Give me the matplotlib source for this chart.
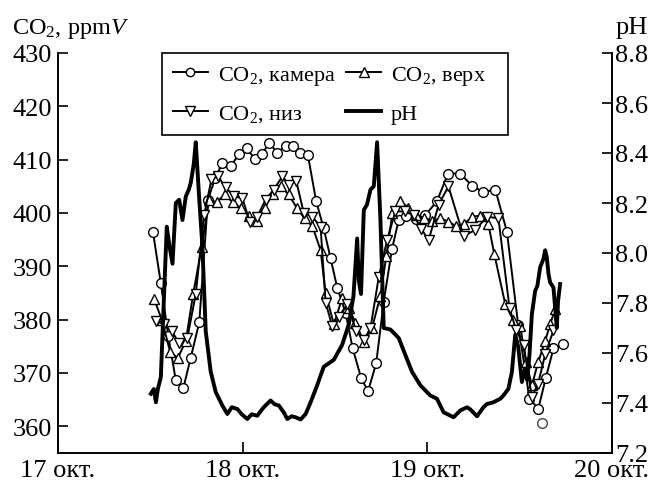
import matplotlib
matplotlib.use('Agg')
import matplotlib.pyplot as plt
from matplotlib.lines import Line2D

plt.rcParams['font.family'] = ['Liberation Serif', 'DejaVu Serif']
plt.rcParams['mathtext.fontset'] = 'custom'
plt.rcParams['mathtext.rm'] = 'Liberation Serif'
plt.rcParams['mathtext.it'] = 'Liberation Serif:italic'

# ---------------- data (time in days of October) ----------------
cam_t = [17.514, 17.557, 17.597, 17.638, 17.679, 17.719, 17.765, 17.812, 17.851, 17.890,
         17.935, 17.980, 18.022, 18.065, 18.106, 18.142, 18.188, 18.232, 18.274, 18.310,
         18.353, 18.398, 18.439, 18.476, 18.512, 18.557, 18.596, 18.642, 18.679, 18.723,
         18.764, 18.809, 18.845, 18.886, 18.938, 18.989, 19.052, 19.112, 19.178, 19.242,
         19.304, 19.368, 19.431, 19.492, 19.553, 19.601, 19.641, 19.683, 19.737]
cam_v = [396.5, 386.8, 377.0, 368.6, 367.2, 372.9, 379.5, 402.5, 406.5, 409.4,
         408.8, 411.0, 412.1, 410.2, 411.0, 413.2, 411.3, 412.6, 412.6, 411.2,
         410.9, 402.2, 397.1, 391.5, 386.0, 381.3, 374.6, 369.0, 366.6, 371.8,
         383.4, 393.3, 398.7, 399.5, 398.8, 399.6, 402.2, 407.4, 407.4, 405.1,
         403.9, 404.4, 396.5, 379.0, 365.2, 363.3, 369.0, 374.6, 375.4]
cam_extra_t = [19.620]
cam_extra_v = [360.7]

top_t = [17.521, 17.562, 17.607, 17.649, 17.692, 17.732, 17.778, 17.818, 17.859, 17.903,
         17.946, 17.989, 18.032, 18.076, 18.119, 18.162, 18.205, 18.249, 18.292, 18.335,
         18.378, 18.422, 18.449, 18.494, 18.539, 18.575, 18.611, 18.656, 18.701, 18.746,
         18.778, 18.811, 18.854, 18.897, 18.941, 18.984, 19.027, 19.070, 19.114, 19.157,
         19.200, 19.243, 19.286, 19.330, 19.362, 19.422, 19.465, 19.503, 19.535, 19.566,
         19.601, 19.638, 19.665, 19.692]
top_v = [383.8, 380.0, 374.0, 372.8, 376.0, 384.8, 393.6, 402.5, 402.0, 403.5,
         402.0, 401.0, 399.5, 398.5, 401.0, 403.5, 405.0, 403.5, 401.0, 399.0,
         397.5, 393.0, 385.0, 379.1, 384.1, 382.2, 379.4, 375.9, 378.5, 384.5,
         392.0, 400.0, 402.2, 401.0, 399.6, 399.0, 398.5, 399.0, 398.4, 397.5,
         398.0, 399.3, 399.5, 398.0, 392.4, 382.9, 380.0, 378.8, 372.0, 367.7,
         372.1, 376.0, 379.1, 382.0]

bot_t = [17.530, 17.573, 17.616, 17.657, 17.700, 17.746, 17.791, 17.831, 17.866, 17.908,
         17.953, 17.998, 18.038, 18.079, 18.124, 18.169, 18.215, 18.250, 18.290, 18.331,
         18.377, 18.422, 18.449, 18.485, 18.524, 18.566, 18.616, 18.656, 18.692, 18.737,
         18.782, 18.827, 18.881, 18.926, 18.968, 19.007, 19.061, 19.114, 19.196, 19.259,
         19.323, 19.385, 19.445, 19.481, 19.521, 19.566, 19.600, 19.638, 19.683]
bot_v = [379.7, 379.2, 377.8, 375.6, 376.5, 384.8, 399.6, 406.3, 406.9, 404.8,
         403.1, 402.8, 398.4, 399.3, 402.5, 404.4, 406.9, 405.3, 406.0, 400.0,
         399.3, 397.4, 383.2, 378.8, 380.5, 382.9, 377.8, 376.2, 378.4, 388.0,
         394.9, 400.3, 400.3, 399.6, 397.0, 394.9, 401.5, 405.0, 395.7, 396.8,
         399.3, 399.0, 382.2, 378.0, 375.3, 365.5, 368.0, 373.5, 378.0]

ph_t = [17.503, 17.519, 17.530, 17.541, 17.557, 17.573, 17.589, 17.603, 17.620, 17.638,
        17.656, 17.674, 17.692, 17.708, 17.719, 17.735, 17.746, 17.764, 17.782, 17.800,
        17.827, 17.854, 17.890, 17.917, 17.941, 17.971, 17.995, 18.025, 18.049, 18.079,
        18.114, 18.151, 18.173, 18.196, 18.222, 18.242, 18.265, 18.286, 18.314, 18.341,
        18.368, 18.404, 18.439, 18.494, 18.539, 18.575, 18.600, 18.620, 18.629, 18.641,
        18.656, 18.673, 18.692, 18.710, 18.728, 18.746, 18.764, 18.800, 18.845, 18.881,
        18.917, 18.962, 19.016, 19.052, 19.088, 19.142, 19.178, 19.215, 19.232, 19.269,
        19.304, 19.323, 19.358, 19.395, 19.412, 19.439, 19.458, 19.476, 19.492, 19.512,
        19.530, 19.541, 19.553, 19.566, 19.584, 19.596, 19.611, 19.629, 19.638, 19.647,
        19.656, 19.665, 19.683, 19.701, 19.708, 19.719]
ph_v = [7.437, 7.456, 7.403, 7.457, 7.504, 7.808, 8.105, 8.031, 7.957, 8.200,
        8.213, 8.132, 8.226, 8.253, 8.281, 8.355, 8.443, 8.226, 8.024, 7.687,
        7.525, 7.444, 7.390, 7.356, 7.383, 7.376, 7.355, 7.336, 7.355, 7.349,
        7.383, 7.410, 7.395, 7.390, 7.363, 7.336, 7.347, 7.343, 7.334, 7.356,
        7.403, 7.472, 7.545, 7.573, 7.633, 7.715, 7.828, 8.058, 7.889, 7.836,
        8.172, 8.193, 8.253, 8.267, 8.443, 8.132, 7.700, 7.694, 7.660, 7.592,
        7.525, 7.471, 7.430, 7.417, 7.363, 7.343, 7.370, 7.383, 7.375, 7.347,
        7.383, 7.396, 7.403, 7.417, 7.430, 7.457, 7.525, 7.673, 7.626, 7.484,
        7.538, 7.492, 7.592, 7.755, 7.849, 7.869, 7.943, 7.977, 8.011, 7.983,
        7.916, 7.882, 7.862, 7.700, 7.808, 7.876]

x_ticks = [17, 18, 19, 20]
x_labels = ['17 окт.', '18 окт.', '19 окт.', '20 окт.']
co2_ticks = [360, 370, 380, 390, 400, 410, 420, 430]
ph_ticks = [7.2, 7.4, 7.6, 7.8, 8.0, 8.2, 8.4, 8.6, 8.8]

lab_cam = 'CO$_2$, камера'
lab_top = 'CO$_2$, верх   '
lab_bot = 'CO$_2$, низ'
lab_ph = 'pH'

# ---------------- figure ----------------
fig = plt.figure(figsize=(6.5, 4.81), dpi=100)
ax = fig.add_axes([58/650, 1-454/481, 554/650, 400/481])
ax2 = ax.twinx()

mk = dict(color='black', lw=1.4, mfc='white', mec='black', mew=1.0)
ax.plot(cam_t, cam_v, marker='o', ms=7, **mk)
ax.plot(cam_extra_t, cam_extra_v, ls='none', marker='o', ms=7,
        mfc='white', mec='#444444', mew=1.0)
ax.plot(top_t, top_v, marker='^', ms=7.5, **mk)
ax.plot(bot_t, bot_v, marker='v', ms=7.5, **mk)
ax2.plot(ph_t, ph_v, color='black', lw=2.8, solid_joinstyle='round')

ax.set_xlim(17, 20)
ax.set_ylim(355, 430)
ax2.set_ylim(7.2, 8.8)
ax.set_xticks(x_ticks)
ax.set_xticklabels(x_labels)
ax.set_yticks(co2_ticks)
ax2.set_yticks(ph_ticks)
ax2.set_yticklabels([f'{v:.1f}' for v in ph_ticks])

for a in (ax, ax2):
    a.spines['top'].set_visible(False)
    for s in ('left', 'right', 'bottom'):
        a.spines[s].set_linewidth(1.2)
ax.tick_params(axis='y', direction='in', length=7, width=1.2, labelsize=19, pad=4.5)
ax.tick_params(axis='x', direction='in', length=8, width=1.2, labelsize=19, pad=4)
ax2.tick_params(axis='y', direction='in', length=7, width=1.2, labelsize=19, pad=2)

fig.text(12/650, 1-34/481, 'CO$_2$, ppm$V$', fontsize=17.5, ha='left', va='baseline')
fig.text(648/650, 1-34/481, 'pH', fontsize=19, ha='right', va='baseline')

handles = [
    Line2D([], [], marker='o', ms=6, **mk),
    Line2D([], [], marker='v', ms=6.5, **mk),
    Line2D([], [], marker='^', ms=6.5, **mk),
    Line2D([], [], color='black', lw=2.8),
]
labels = [lab_cam, lab_bot, lab_top, lab_ph]
leg = ax2.legend(handles, labels, ncol=2, loc='upper left',
                 bbox_to_anchor=((162-58)/554, 1.0),
                 borderaxespad=0, fontsize=16, frameon=True, fancybox=False,
                 edgecolor='black', framealpha=1, handlelength=1.55, handletextpad=0.45,
                 columnspacing=0.5, labelspacing=0.72, borderpad=0.5)
leg.get_frame().set_linewidth(1.2)

fig.savefig('out.png', dpi=100)
